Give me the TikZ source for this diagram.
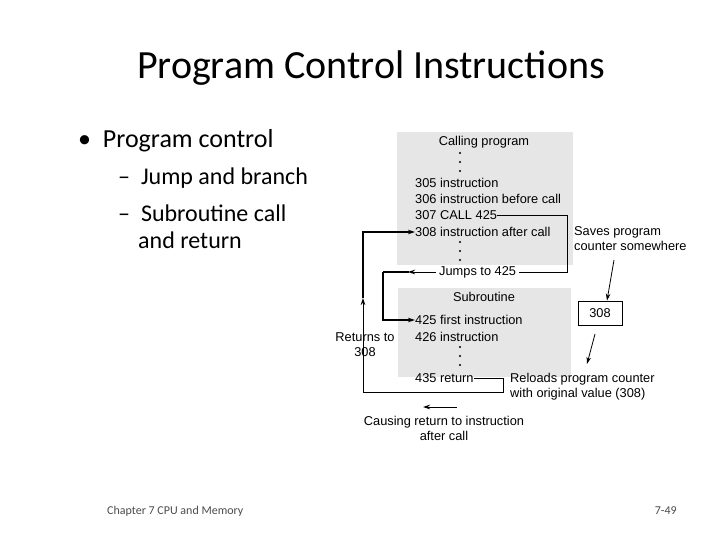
\documentclass[tikz,border=0pt]{standalone}
\usepackage{fontspec}
\setmainfont{Carlito}
\newfontfamily\dfont{Liberation Sans}
\usetikzlibrary{arrows.meta}
\definecolor{boxgray}{RGB}{230,230,230}
\begin{document}
\begin{tikzpicture}[x=1pt,y=-1pt,
  dt/.style={font=\dfont\fontsize{12.8}{15}\selectfont,inner sep=0pt,anchor=west},
  dc/.style={font=\dfont\fontsize{12.8}{15}\selectfont,inner sep=0pt,align=center},
  ln/.style={line width=0.8pt},
  thk/.style={line width=1.3pt},
  arr/.style={-{Stealth[length=7pt,width=4.5pt]}}]
\useasboundingbox (0,0) rectangle (720,540);
\fill[white] (0,0) rectangle (720,540);
\node[font=\fontsize{40}{46}\selectfont] (title) at (371,68) {Program Control Instructions};
\node[font=\fontsize{26}{30}\selectfont,anchor=west,inner sep=0pt] (b1) at (78,141) {\textbullet\ \ Program control};
\node[font=\fontsize{24}{28}\selectfont,anchor=west,inner sep=0pt] (s1) at (118,178) {--\ \ Jump and branch};
\node[font=\fontsize{24}{27}\selectfont,anchor=west,inner sep=0pt,align=left] (s2) at (118,227) {--\ \ Subroutine call\\\hspace*{20pt}and return};
\node[font=\fontsize{12}{14}\selectfont,anchor=west,inner sep=0pt,text=black!70] (f1) at (107,511) {Chapter 7 CPU and Memory};
\node[font=\fontsize{12}{14}\selectfont,anchor=east,inner sep=0pt,text=black!70] (f2) at (677,511) {7-49};

\fill[boxgray] (397,132) rectangle (573,265);
\fill[boxgray] (398,288) rectangle (571,377);
\node[dc] (cp) at (484,142) {Calling program};
\foreach \y in {153,162,171} \fill (460,\y) circle (1.1pt);
\node[dt] (l305) at (415,183) {305 instruction};
\node[dt] (l306) at (415,199) {306 instruction before call};
\node[dt] (l307) at (415,215) {307 CALL 425};
\node[dt] (l308) at (415,232) {308 instruction after call};
\foreach \y in {242,251,260} \fill (460,\y) circle (1.1pt);
\node[dt,fill=white,inner xsep=3pt] (jmp) at (436,272) {Jumps to 425};
\node[dc] (sub) at (484,297) {Subroutine};
\node[dt] (l425) at (415,320) {425 first instruction};
\node[dt] (l426) at (415,337) {426 instruction};
\foreach \y in {347,356,365} \fill (460,\y) circle (1.1pt);
\node[dt] (l435) at (415,378) {435 return};
\node[dc] (ret) at (365,345) {Returns to\\308};
\node[dt,align=left] (saves) at (574,239) {Saves program\\counter somewhere};
\node[draw,line width=0.8pt,fill=white,minimum width=44pt,minimum height=24pt,font=\dfont\fontsize{12.8}{15}\selectfont] (pc) at (600,313) {308};
\node[dt,align=left] (rel) at (510,387) {Reloads program counter\\with original value (308)};
\node[dc] (cause) at (444,428) {Causing return to instruction\\after call};
\coordinate (c1) at (567,215);
\coordinate (c2) at (567,272);
\coordinate (c3) at (383,272);
\coordinate (c4) at (383,320);
\draw[ln] (l307.east) -- (c1) -- (c2) -- (jmp.east);
\draw[ln,arr] (jmp.west) -- (408,272);
\draw[thk] (409,272) -- (c3);
\draw[thk,arr] (c3) -- (c4) -- (l425.west);
\coordinate (r1) at (503,378);
\coordinate (r2) at (503,392);
\coordinate (r3) at (363,392);
\coordinate (r4) at (363,232);
\draw[ln] (l435.east) -- (r1) -- (r2) -- (r3) -- (363,305);
\draw[ln,arr] (363,306) -- (363,298);
\draw[thk,arr] (363,298) -- (r4) -- (l308.west);
\coordinate (a1) at (457,407);
\coordinate (a2) at (423,407);
\draw[ln,arr] (a1) -- (a2);
\coordinate (s0) at (614,260);
\coordinate (p0) at (595,334);
\coordinate (p1) at (587,364);
\draw[ln,arr] (s0) -- (pc.north -| 607,0);
\draw[ln,arr] (p0) -- (p1);
\end{tikzpicture}
\end{document}
